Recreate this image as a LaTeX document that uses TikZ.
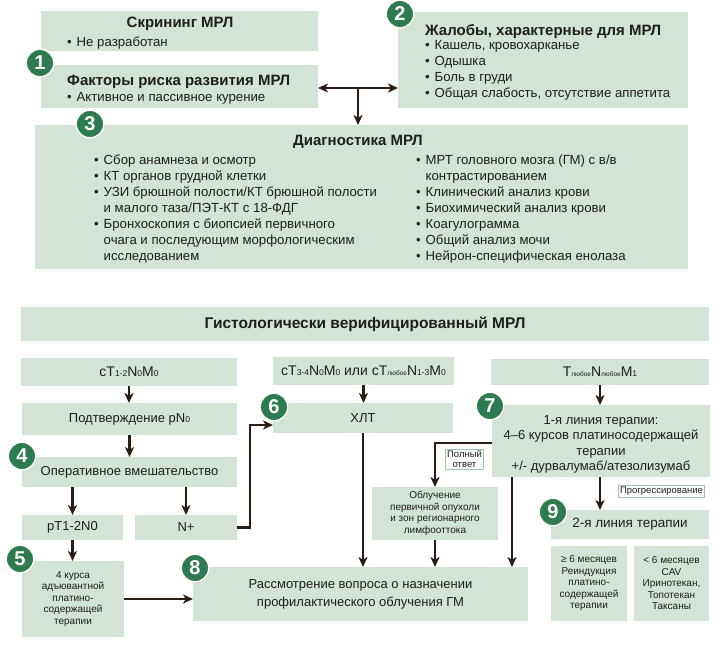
\documentclass[tikz,border=0pt]{standalone}
\usepackage{fontspec}
\setmainfont{Liberation Sans}
\usetikzlibrary{arrows.meta}
\definecolor{boxfill}{HTML}{D3E3D6}
\definecolor{badgegreen}{HTML}{2E7B4F}
\definecolor{arr}{HTML}{2A1D15}
\definecolor{txt}{HTML}{1E1E1E}
\definecolor{lblborder}{HTML}{9EC4A5}
\newcommand{\blt}{\makebox[9.5pt][l]{•}}
\newcommand{\ind}{\hspace*{9.5pt}}
\newcommand{\sbs}[1]{{\fontsize{8.5}{8.5}\selectfont #1}}
\newcommand{\sbl}[1]{{\fontsize{6.5}{6.5}\selectfont #1}}
\begin{document}
\begin{tikzpicture}[x=1pt,y=-1pt, text=txt,
  box/.style={fill=boxfill, inner sep=0pt, outer sep=0pt, align=center},
  badge/.style={circle, fill=badgegreen, draw=white, line width=1.3pt, minimum size=27.5pt, inner sep=0pt, text=white, font=\fontsize{20}{20}\selectfont\bfseries},
  link/.style={draw=arr, line width=2.3pt, -{Stealth[length=10pt,width=9pt,inset=2.8pt]}},
  twolink/.style={draw=arr, line width=2.3pt, {Stealth[length=10pt,width=9pt,inset=2.8pt]}-{Stealth[length=10pt,width=9pt,inset=2.8pt]}},
  lbl/.style={fill=white, draw=lblborder, line width=0.8pt, inner sep=1.5pt, font=\fontsize{9.5}{10}\selectfont, align=center},
  body/.style={font=\fontsize{13.2}{16}\selectfont, align=left, inner sep=0pt, anchor=north west},
  ttl/.style={font=\fontsize{15}{16}\selectfont\bfseries, inner sep=0pt},
  mid/.style={font=\fontsize{13}{15.5}\selectfont},
  nota/.style={font=\fontsize{14}{15}\selectfont},
  big/.style={font=\fontsize{13}{18}\selectfont},
  small/.style={font=\fontsize{10}{11.5}\selectfont},
]
\useasboundingbox (0,0) rectangle (720,648);

% ---------- top boxes ----------
\node[box, minimum width=277pt, minimum height=40pt] (scr) at (179.5,31) {};
\node[box, minimum width=277pt, minimum height=43pt] (f1) at (179.5,86.5) {};
\node[box, minimum width=290pt, minimum height=96pt] (zh) at (543,60) {};
\node[box, minimum width=653pt, minimum height=144pt] (diag) at (361.5,197) {};

\node[ttl] (scrT) at (180,23.5) {Скрининг МРЛ};
\node[body, anchor=base west] (scrB) at (67,46) {\blt Не разработан};
\node[ttl, anchor=base west] (f1T) at (67,85.5) {Факторы риска развития МРЛ};
\node[body, anchor=base west] (f1B) at (67,101) {\blt Активное и пассивное курение};
\node[ttl, anchor=base west] (zhT) at (425,35.5) {Жалобы, характерные для МРЛ};
\node[body] (zhB) at (425,38.3) {\strut\blt Кашель, кровохарканье\\ \blt Одышка\\ \blt Боль в груди\\ \blt Общая слабость, отсутствие аппетита};
\node[ttl] (diagT) at (358,142) {Диагностика МРЛ};
\node[body] (dL) at (94,153.5) {\strut\blt Сбор анамнеза и осмотр\\ \blt КТ органов грудной клетки\\ \blt УЗИ брюшной полости/КТ брюшной полости\\ \ind и малого таза/ПЭТ-КТ с 18-ФДГ\\ \blt Бронхоскопия с биопсией первичного\\ \ind очага и последующим морфологическим\\ \ind исследованием};
\node[body] (dR) at (416,153.5) {\strut\blt МРТ головного мозга (ГМ) с в/в\\ \ind контрастированием\\ \blt Клинический анализ крови\\ \blt Биохимический анализ крови\\ \blt Коагулограмма\\ \blt Общий анализ мочи\\ \blt Нейрон-специфическая енолаза};

\coordinate (tj) at (358,88);
\draw[twolink] (f1.east |- tj) -- (zh.west |- tj);
\draw[link] (tj) -- (tj |- diag.north);

% ---------- lower part ----------
\node[box, minimum width=688pt, minimum height=34pt, font=\fontsize{15.5}{16}\selectfont\bfseries] (hist) at (365,324) {Гистологически верифицированный МРЛ};

\node[box, nota, minimum width=216pt, minimum height=28pt] (c12) at (129,372) {cT\sbs{1-2}N\sbs{0}M\sbs{0}};
\node[box, nota, minimum width=181pt, minimum height=28pt] (c34) at (363.5,371) {cT\sbs{3-4}N\sbs{0}M\sbs{0} или cT\sbl{любое}N\sbs{1-3}M\sbs{0}};
\node[box, nota, minimum width=218pt, minimum height=26pt] (cM1) at (600,372) {T\sbl{любое}N\sbl{любое}M\sbs{1}};

\node[box, mid, minimum width=215pt, minimum height=32pt] (pn0) at (129.5,419) {Подтверждение pN\sbs{0}};
\node[box, mid, minimum width=215pt, minimum height=30pt] (op) at (129.5,472) {Оперативное вмешательство};
\node[box, mid, minimum width=101pt, minimum height=25pt] (pt) at (72.5,527.5) {pT1-2N0};
\node[box, mid, minimum width=102pt, minimum height=25pt] (np) at (186,527.5) {N+};
\node[box, small, minimum width=102pt, minimum height=76pt] (b5) at (73,599) {4 курса\\адъювантной\\платино-\\содержащей\\терапии};

\node[box, big, minimum width=180pt, minimum height=30pt] (xlt) at (363,418) {ХЛТ};
\node[box, minimum width=218pt, minimum height=72pt] (b7) at (601,441) {};
\node[mid, align=center, inner sep=0pt] (b7t) at (601,444.5) {1-я линия терапии:\\4–6 курсов платиносодержащей\\терапии\\+/- дурвалумаб/атезолизумаб};
\node[box, small, minimum width=126pt, minimum height=53pt] (obl) at (435,513.5) {Облучение\\первичной опухоли\\и зон регионарного\\лимфооттока};
\node[box, big, minimum width=335pt, minimum height=54pt] (b8) at (360.5,594) {Рассмотрение вопроса о назначении\\профилактического облучения ГМ};
\node[box, big, font=\fontsize{13.5}{18}\selectfont, minimum width=158pt, minimum height=29pt] (b9) at (630,524.5) {2-я линия терапии};
\node[box, small, minimum width=76pt, minimum height=75pt] (b9a) at (589,583.5) {≥ 6 месяцев\\Реиндукция\\платино-\\содержащей\\терапии};
\node[box, small, minimum width=75pt, minimum height=75pt] (b9b) at (671.5,583.5) {< 6 месяцев\\CAV\\Иринотекан,\\Топотекан\\Таксаны};

% connectors
\draw[link] (c12.south) -- (c12.south |- pn0.north);
\draw[link] (pn0.south) -- (pn0.south |- op.north);
\draw[link] (op.south -| pt.north) -- (pt.north);
\draw[link] (op.south -| np.north) -- (np.north);
\coordinate (nbend) at (250,425);
\draw[link] (np.east) -| (nbend) -- (nbend -| xlt.west);
\draw[link] (pt.south) -- (pt.south |- b5.north);
\draw[link] (b5.east) -- (b5.east -| b8.west);
\draw[link] (c34.south) -- (c34.south |- xlt.north);
\draw[link] (xlt.south) -- (xlt.south |- b8.north);
\draw[link] (cM1.south) -- (cM1.south |- b7.north);
\draw[link] (b7.south -| cM1.south) -- (cM1.south |- b9.north);
\coordinate (x512) at (512,0);
\draw[link] (b7.south -| x512) -- (b8.north -| x512);
\coordinate (pfull) at (492,443);
\draw[link] (pfull) -| (obl.north);
\draw[link] (obl.south) -- (obl.south |- b8.north);

\node[lbl] (lfull) at (464.5,459) {Полный\\ответ};
\node[lbl] (lprog) at (661.5,491.5) {Прогрессирование};

% badges
\node[badge] (n1) at (40,63) {1};
\node[badge] (n2) at (400,14) {2};
\node[badge] (n3) at (90,124) {3};
\node[badge] (n4) at (22,456) {4};
\node[badge] (n5) at (20,559) {5};
\node[badge] (n6) at (274,407) {6};
\node[badge] (n7) at (490,406) {7};
\node[badge] (n8) at (195,568) {8};
\node[badge] (n9) at (553,512) {9};
\end{tikzpicture}
\end{document}
